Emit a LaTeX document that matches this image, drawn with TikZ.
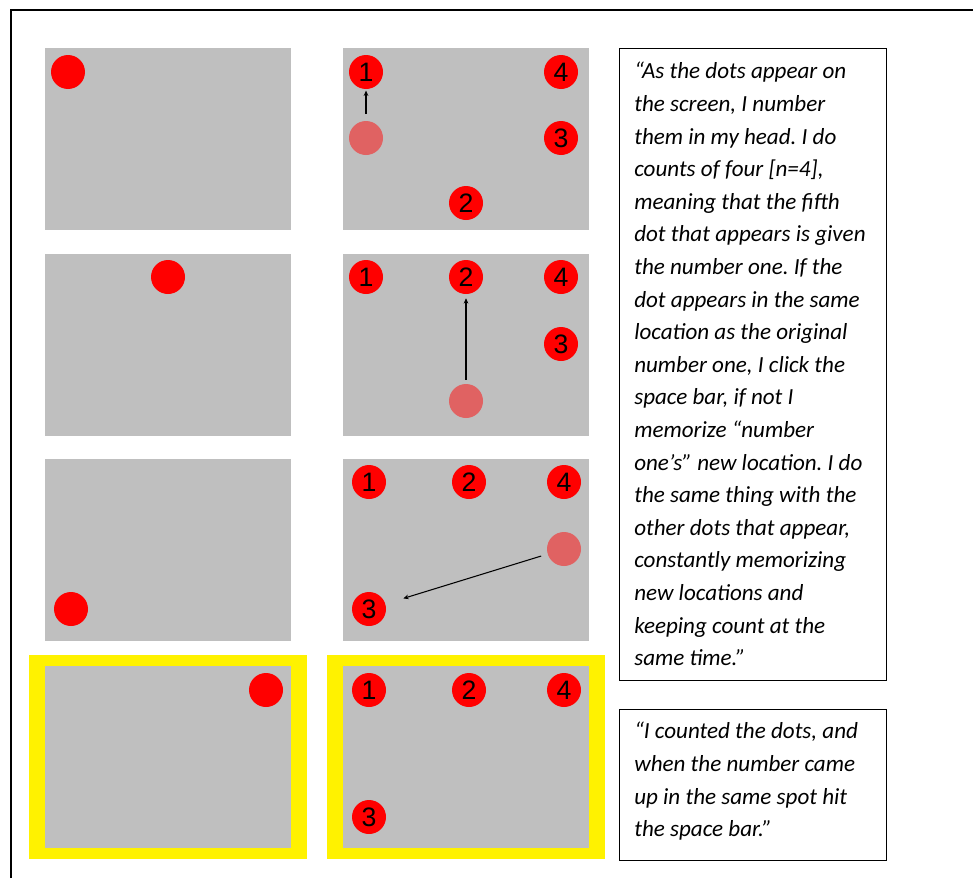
\documentclass[tikz,border=0pt]{standalone}
\usepackage{fontspec}
\setmainfont{Liberation Sans}
\newfontfamily\quotefont{Carlito}
\usetikzlibrary{arrows.meta}
\definecolor{panelgray}{RGB}{191,191,191}
\definecolor{fadedred}{RGB}{224,98,98}
\frenchspacing

\begin{document}
\begin{tikzpicture}[x=0.75pt,y=-0.75pt,
    dot/.style={circle,fill=red,minimum size=25.5pt,inner sep=0pt,font=\fontsize{20}{20}\selectfont},
    ghost/.style={circle,fill=fadedred,minimum size=25.5pt,inner sep=0pt},
    move/.style={-{Stealth[length=4pt,width=3.5pt]},line width=0.8pt},
    quote/.style={anchor=north west,align=left,inner sep=0pt,font=\quotefont\itshape\fontsize{17.3}{24.45}\selectfont}]
    \useasboundingbox (0,0) rectangle (973,878);
    \draw[line width=1.7pt] (11,878) -- (11,10) -- (973,10);

    % last row is highlighted
    \fill[yellow] (29,655) rectangle (307,859); \fill[yellow] (327,655) rectangle (605,859);
    \foreach \y in {48,254,459,666}{
        \fill[panelgray] (45,\y) rectangle (291,\y+182); \fill[panelgray] (343,\y) rectangle (589,\y+182);
    }

    % single dots
    \node[dot] (s1) at (68,72) {}; \node[dot] (s2) at (168,277) {};
    \node[dot] (s3) at (71,609) {}; \node[dot] (s4) at (266,690) {};

    % numbered dots
    \node[dot] (a1) at (366,72) {1}; \node[dot] (a2) at (466,203) {2}; \node[dot] (a3) at (561,138) {3}; \node[dot] (a4) at (561,72) {4};
    \node[ghost] (ga) at (366,138) {};
    \draw[move,shorten <=5pt,shorten >=1pt] (ga) -- (a1);

    \node[dot] (b1) at (366,277) {1}; \node[dot] (b2) at (466,277) {2}; \node[dot] (b3) at (561,344) {3}; \node[dot] (b4) at (561,277) {4};
    \node[ghost] (gb) at (466,401) {};
    \draw[move,shorten <=3pt,shorten >=3pt] (gb) -- (b2);

    \node[dot] (c1) at (369,482) {1}; \node[dot] (c2) at (469,482) {2}; \node[dot] (c3) at (369,609) {3}; \node[dot] (c4) at (564,482) {4};
    \node[ghost] (gc) at (564,549) {};
    \draw[move,shorten <=5pt,shorten >=14pt] (gc) -- (c3);

    \node[dot] (d1) at (369,690) {1}; \node[dot] (d2) at (469,690) {2}; \node[dot] (d3) at (369,817) {3}; \node[dot] (d4) at (564,690) {4};

    % quotes
    \draw[line width=0.65pt] (619,48) rectangle (886,680);
    \node[quote] (q1) at (634,62) {“As the dots appear on\\the screen, I number\\them in my head. I do\\counts of four [n=4],\\meaning that the fifth\\dot that appears is given\\the number one. If the\\dot appears in the same\\location as the original\\number one, I click the\\space bar, if not I\\memorize “number\\one’s” new location. I do\\the same thing with the\\other dots that appear,\\constantly memorizing\\new locations and\\keeping count at the\\same time.”};
    \draw[line width=0.65pt] (619,709) rectangle (886,860);
    \node[quote] (q2) at (634,722) {“I counted the dots, and\\when the number came\\up in the same spot hit\\the space bar.”};
\end{tikzpicture}
\end{document}
